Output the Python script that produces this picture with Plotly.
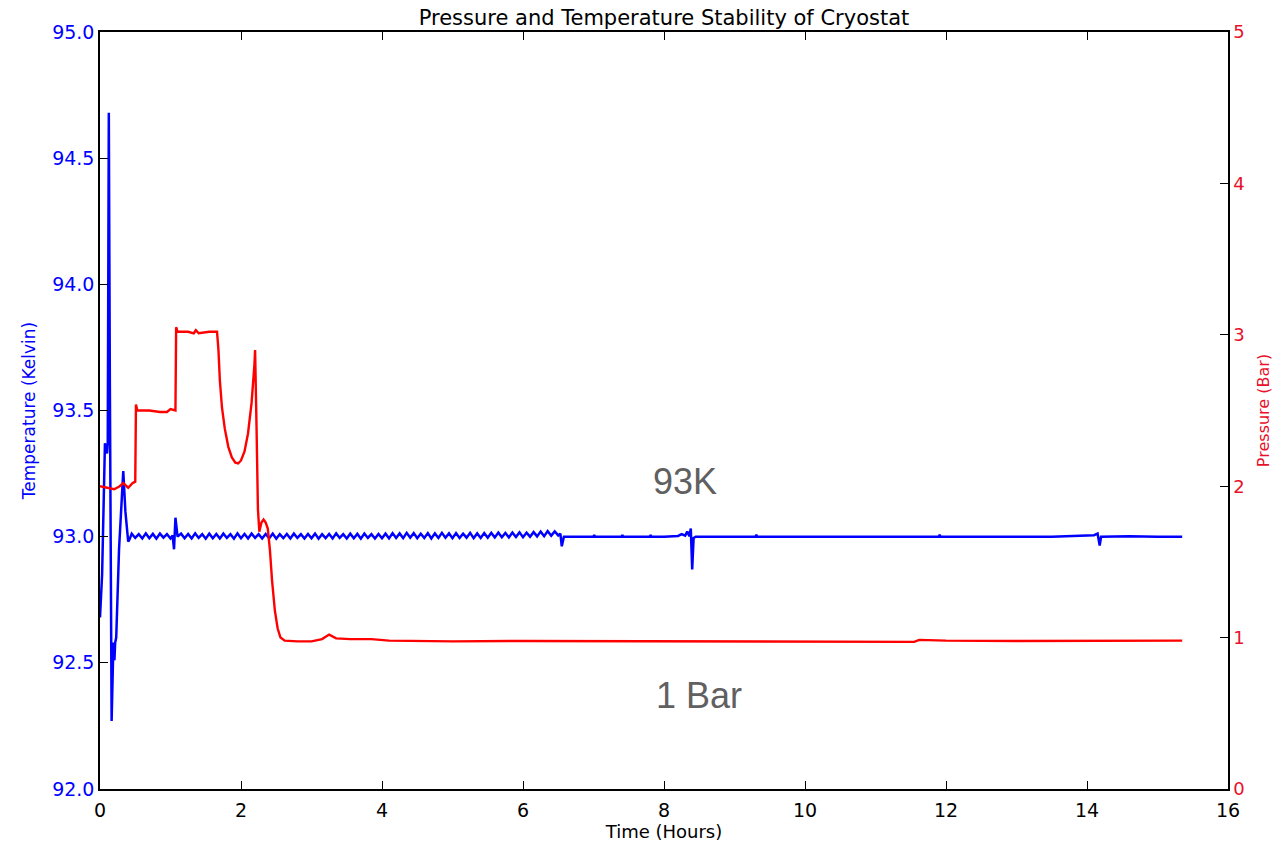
import plotly.graph_objects as go

# ---------------- data ----------------
temp_time = [
    0.00, 0.03, 0.07, 0.10, 0.11, 0.125, 0.14, 0.165, 0.19, 0.205, 0.215, 0.23,
    0.27, 0.31, 0.33, 0.36, 0.40, 0.42,
    0.45, 0.50, 0.55, 0.60, 0.65, 0.70, 0.75, 0.80, 0.85, 0.90, 0.95, 1.00,
    1.03, 1.05, 1.07, 1.10, 1.15, 1.20, 1.25, 1.30, 1.35, 1.40, 1.45, 1.50,
    1.55, 1.60, 1.65, 1.70, 1.75, 1.80, 1.85, 1.90, 1.95, 2.00, 2.05, 2.10,
    2.15, 2.20, 2.25, 2.30, 2.35, 2.40, 2.45, 2.50, 2.55, 2.60, 2.65, 2.70,
    2.75, 2.80, 2.85, 2.90, 2.95, 3.00, 3.05, 3.10, 3.15, 3.20, 3.25, 3.30,
    3.35, 3.40, 3.45, 3.50, 3.55, 3.60, 3.65, 3.70, 3.75, 3.80, 3.85, 3.90,
    3.95, 4.00, 4.05, 4.10, 4.15, 4.20, 4.25, 4.30, 4.35, 4.40, 4.45, 4.50,
    4.55, 4.60, 4.65, 4.70, 4.75, 4.80, 4.85, 4.90, 4.95, 5.00, 5.05, 5.10,
    5.15, 5.20, 5.25, 5.30, 5.35, 5.40, 5.45, 5.50, 5.55, 5.60, 5.65, 5.70,
    5.75, 5.80, 5.85, 5.90, 5.95, 6.00, 6.05, 6.10, 6.15, 6.20, 6.25, 6.30,
    6.35, 6.40, 6.45, 6.50, 6.53, 6.55, 6.58,
    6.80, 7.00, 7.01, 7.02, 7.40, 7.41, 7.42, 7.80, 7.81, 7.82, 8.00, 8.20,
    8.25, 8.30, 8.33, 8.36, 8.38, 8.40, 8.42, 8.45,
    8.80, 9.30, 9.31, 9.32, 10.00, 10.50, 11.00, 11.50, 11.90, 11.91, 11.92,
    12.50, 13.00, 13.50, 13.80, 14.00, 14.10, 14.15, 14.18, 14.20, 14.60,
    15.00, 15.35,
]
temp_value = [
    92.68, 92.85, 93.37, 93.33, 93.37, 94.68, 93.60, 92.27, 92.58, 92.51, 92.58, 92.60,
    92.95, 93.20, 93.26, 93.10, 92.98, 92.99,
    93.012, 92.995, 93.010, 92.993, 93.013, 92.994, 93.011, 92.992, 93.012, 92.996, 93.010, 92.993,
    93.005, 92.950, 93.075, 93.000, 93.012, 92.994, 93.011, 92.993, 93.013, 92.995, 93.010, 92.992,
    93.012, 92.994, 93.011, 92.993, 93.012, 92.995, 93.010, 92.992, 93.013, 92.994, 93.011, 92.993,
    93.012, 92.995, 93.010, 92.993, 93.011, 92.994, 93.012, 92.992, 93.010, 92.994, 93.011, 92.993,
    93.012, 92.995, 93.010, 92.993, 93.011, 92.994, 93.012, 92.992, 93.010, 92.994, 93.011, 92.993,
    93.013, 92.995, 93.010, 92.993, 93.012, 92.994, 93.011, 92.992, 93.012, 92.995, 93.010, 92.993,
    93.011, 92.994, 93.012, 92.993, 93.014, 92.995, 93.013, 92.994, 93.015, 92.996, 93.014, 92.994,
    93.012, 92.995, 93.014, 92.993, 93.013, 92.995, 93.015, 92.996, 93.013, 92.994, 93.014, 92.995,
    93.012, 92.996, 93.015, 92.994, 93.013, 92.995, 93.014, 92.996, 93.015, 92.997, 93.016, 92.998,
    93.015, 92.997, 93.016, 92.999, 93.017, 92.998, 93.016, 93.000, 93.018, 93.001, 93.020, 93.002,
    93.022, 93.004, 93.021, 93.005, 93.012, 92.962, 93.000,
    93.000, 93.000, 93.007, 93.000, 93.000, 93.007, 93.000, 93.000, 93.007, 93.000, 93.000, 93.003,
    93.010, 93.004, 93.020, 93.002, 93.032, 92.870, 92.995, 93.000,
    93.000, 93.000, 93.008, 93.000, 93.000, 93.000, 93.000, 93.000, 93.000, 93.008, 93.000,
    93.000, 93.000, 93.000, 93.003, 93.004, 93.006, 93.012, 92.965, 93.000, 93.002,
    93.000, 93.000,
]

pres_time = [
    0.00, 0.10, 0.20, 0.28, 0.33, 0.40, 0.46, 0.50, 0.51, 0.53, 0.70, 0.85,
    0.95, 1.00, 1.05, 1.07, 1.08, 1.10, 1.25, 1.33, 1.36, 1.40, 1.55, 1.66,
    1.68, 1.70, 1.73, 1.77, 1.82, 1.87, 1.92, 1.96, 2.00, 2.05, 2.10, 2.15,
    2.19, 2.20, 2.22, 2.24, 2.26, 2.29, 2.32, 2.35, 2.38, 2.41, 2.44, 2.48,
    2.52, 2.56, 2.62, 2.80, 3.00, 3.15, 3.25, 3.35, 3.55, 3.85, 4.10, 5.00,
    6.00, 7.00, 8.00, 9.00, 10.00, 11.00, 11.55, 11.62, 12.00, 13.00, 14.00,
    15.35,
]
pres_value = [
    2.00, 1.99, 1.98, 2.00, 2.02, 1.99, 2.02, 2.03, 2.54, 2.50, 2.50, 2.49,
    2.49, 2.51, 2.50, 2.50, 3.05, 3.02, 3.02, 3.01, 3.03, 3.01, 3.02, 3.02,
    2.90, 2.70, 2.52, 2.38, 2.26, 2.19, 2.155, 2.15, 2.17, 2.23, 2.35, 2.55,
    2.80, 2.90, 2.40, 1.85, 1.70, 1.76, 1.78, 1.76, 1.72, 1.58, 1.38, 1.18,
    1.06, 1.00, 0.98, 0.975, 0.975, 0.99, 1.02, 0.995, 0.99, 0.99, 0.98, 0.975,
    0.978, 0.977, 0.976, 0.977, 0.975, 0.972, 0.972, 0.985, 0.98, 0.978, 0.978,
    0.98,
]

x_ticks = [0, 2, 4, 6, 8, 10, 12, 14, 16]
temp_ticks = [92.0, 92.5, 93.0, 93.5, 94.0, 94.5, 95.0]
pres_ticks = [0, 1, 2, 3, 4, 5]

FONT = "DejaVu Sans"

fig = go.Figure()
fig.add_trace(go.Scatter(x=temp_time, y=temp_value, mode="lines",
                         line=dict(color="#0000ff", width=2.5), yaxis="y"))
fig.add_trace(go.Scatter(x=pres_time, y=pres_value, mode="lines",
                         line=dict(color="#ff0000", width=2.4), yaxis="y2"))

fig.update_layout(
    width=1286, height=845,
    margin=dict(l=100, r=58, t=32, b=53),
    paper_bgcolor="white", plot_bgcolor="white",
    showlegend=False,
    font=dict(family=FONT, color="black"),
    title=dict(text="Pressure and Temperature Stability of Cryostat",
               x=0.5, xanchor="center", xref="paper",
               y=0.979, yanchor="middle",
               font=dict(family=FONT, size=21, color="black")),
    xaxis=dict(range=[0, 16], tickvals=x_ticks, ticktext=[str(v) for v in x_ticks],
               ticks="inside", ticklen=8, tickcolor="black",
               showline=True, linecolor="black", linewidth=1.5, mirror="ticks",
               showgrid=False, zeroline=False, ticklabelstandoff=3,
               tickfont=dict(family=FONT, size=19, color="black"),
               title=dict(text="Time (Hours)", standoff=0,
                          font=dict(family=FONT, size=18, color="black"))),
    yaxis=dict(range=[92, 95], tickvals=temp_ticks,
               ticktext=[f"{v:.1f}" for v in temp_ticks],
               ticks="inside", ticklen=8, tickcolor="black",
               showline=True, linecolor="black", linewidth=1.5,
               showgrid=False, zeroline=False,
               tickfont=dict(family=FONT, size=19, color="#0000ff"),
               title=dict(text="Temperature (Kelvin)", standoff=12,
                          font=dict(family=FONT, size=17, color="#0000ff"))),
    yaxis2=dict(range=[0, 5], tickvals=pres_ticks,
                ticktext=[str(v) for v in pres_ticks],
                overlaying="y", side="right",
                ticks="inside", ticklen=8, tickcolor="black",
                showline=True, linecolor="black", linewidth=1.5,
                showgrid=False, zeroline=False,
                tickfont=dict(family=FONT, size=18, color="#e8102a"),
                title=dict(text="Pressure (Bar)", standoff=14,
                           font=dict(family=FONT, size=16, color="#e8102a"))),
    annotations=[
        dict(text="93K", x=8.3, y=93.22, xref="x", yref="y", showarrow=False,
             font=dict(family="Liberation Sans", size=36, color="#606060")),
        dict(text="1 Bar", x=8.5, y=92.37, xref="x", yref="y", showarrow=False,
             font=dict(family="Liberation Sans", size=36, color="#606060")),
    ],
)

fig.write_html("out.html")
